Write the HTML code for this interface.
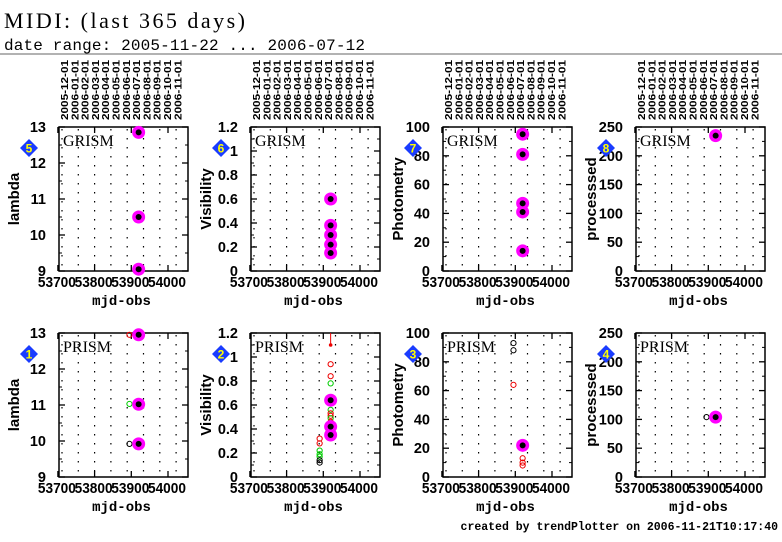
<!DOCTYPE html>
<html><head><meta charset="utf-8">
<style>
body{margin:0;background:#fff;}
svg{display:block;font-family:"Liberation Sans",sans-serif;}
.tk{font-size:14.5px;font-weight:bold;fill:#000;}
.xtk{font-size:15px;font-weight:bold;fill:#000;}
.lab{font-size:14px;font-weight:bold;font-family:"Liberation Mono",monospace;fill:#000;}
.ylab{font-size:15px;font-weight:bold;fill:#000;}
.dt{font-size:10px;font-weight:bold;fill:#000;}
</style></head>
<body>
<svg id="chart" width="782" height="542" viewBox="0 0 782 542" xmlns="http://www.w3.org/2000/svg">
<text x="4" y="28" font-family="Liberation Serif,serif" font-size="22" textLength="241">MIDI: (last 365 days)</text>
<text x="4" y="50" font-family="Liberation Mono,monospace" font-size="16" textLength="361">date range: 2005-11-22 ... 2006-07-12</text>
<line x1="0" y1="54" x2="782" y2="54" stroke="#666" stroke-width="1"/>
<text x="778" y="530" text-anchor="end" font-family="Liberation Mono,monospace" font-weight="bold" font-size="11.5">created by trendPlotter on 2006-11-21T10:17:40</text>
<g id="plots"></g>
</svg>
<script>
const xTicks=[53700,53800,53900,54000];
const monthLabels=["2005-12-01","2006-01-01","2006-02-01","2006-03-01","2006-04-01","2006-05-01","2006-06-01","2006-07-01","2006-08-01","2006-09-01","2006-10-01","2006-11-01"];
const panelIds=[5,6,7,8,1,2,3,4];
const panelModes=["GRISM","GRISM","GRISM","GRISM","PRISM","PRISM","PRISM","PRISM"];
const panelYLabels=["lambda","Visibility","Photometry","processsed","lambda","Visibility","Photometry","processsed"];
const yMins=[9,0,0,0,9,0,0,0];
const yMaxs=[13,1.2,100,250,13,1.2,100,250];
const yTickVals=[[9,10,11,12,13],[0,0.2,0.4,0.6,0.8,1,1.2],[0,20,40,60,80,100],[0,50,100,150,200,250],[9,10,11,12,13],[0,0.2,0.4,0.6,0.8,1,1.2],[0,20,40,60,80,100],[0,50,100,150,200,250]];
const mainX=[[53920,53920,53920],[53920,53920,53920,53920,53920],[53920,53920,53920,53920,53920],[53920],[53920,53920,53920],[53920,53920,53920],[53920],[53920]];
const mainY=[[12.85,10.5,9.05],[0.6,0.38,0.3,0.22,0.15],[95,81,47,41,14],[235],[12.95,11.02,9.92],[0.64,0.42,0.35],[22],[104]];
const openX=[[],[],[],[],[53895,53895,53895],[53920,53920,53920,53920,53920,53920,53920,53920,53890,53890,53890,53890,53890,53890,53890],[53895,53895,53895,53920,53920,53920],[53895]];
const openY=[[],[],[],[],[12.95,11.03,9.92],[0.94,0.84,0.78,0.56,0.53,0.51,0.49,0.46,0.32,0.28,0.22,0.19,0.17,0.14,0.12],[93,88,64,13,10,8],[104]];
const openC=[[],[],[],[],["r","g","k"],["r","r","g","g","r","r","g","r","r","r","g","g","g","k","k"],["k","k","r","r","r","r"],["k"]];
const colors={r:"#e00",g:"#0c0",k:"#000"};
const lefts=[59,251,443,636];
const tops=[127,333];
const W=129,H=144;
const ns="http://www.w3.org/2000/svg";
const root=document.getElementById('plots');
function mk(tag,attrs,parent,text){const e=document.createElementNS(ns,tag);for(const k in attrs)e.setAttribute(k,attrs[k]);if(text!==undefined)e.textContent=text;(parent||root).appendChild(e);return e;}
function fmt(v){return (Math.round(v*10)/10).toString();}
for(let p=0;p<8;p++){
  const L=lefts[p%4],T=tops[Math.floor(p/4)];
  const xs=m=>L+(m-53703)*0.367;
  const ys=v=>T+H-(v-yMins[p])/(yMaxs[p]-yMins[p])*H;
  const g=mk('g',{});
  
  
  for(let i=0;i<8;i++){const gx=L+3+i*16.3;const l=mk('line',{x1:gx,y1:T+2,x2:gx,y2:T+H,stroke:'#000','stroke-width':1.2,'stroke-dasharray':'1.5,7.5'},g);}
  const fr=mk('rect',{x:L,y:T,width:W,height:H,fill:'none',stroke:'#000','stroke-width':1.5},g);
  
  const yt=yTickVals[p];
  yt.forEach((v,i)=>{const y=ys(v);
    mk('line',{x1:L,y1:y,x2:L+6,y2:y,stroke:'#000','stroke-width':1.3},g);
    mk('line',{x1:L+W,y1:y,x2:L+W-6,y2:y,stroke:'#000','stroke-width':1.3},g);
    const t=mk('text',{x:L-13,y:y+5,'text-anchor':'end',class:'tk'},g,fmt(v));
    
    if(i<yt.length-1){const step=(yt[i+1]-v)/2;const ym=ys(v+step);
      mk('line',{x1:L,y1:ym,x2:L+3,y2:ym,stroke:'#000'},g);mk('line',{x1:L+W,y1:ym,x2:L+W-3,y2:ym,stroke:'#000'},g);}
  });
  xTicks.forEach(v=>{const x=xs(v);
    mk('line',{x1:x,y1:T+H,x2:x,y2:T+H-6,stroke:'#000','stroke-width':1.3},g);
    mk('line',{x1:x,y1:T,x2:x,y2:T+6,stroke:'#000','stroke-width':1.3},g);
    const t=mk('text',{x:x-1,y:T+H+16,'text-anchor':'middle',class:'xtk',textLength:'38',lengthAdjust:'spacingAndGlyphs'},g,String(v));
    
  });
  const xl=mk('text',{x:L+W/2-2,y:T+H+34,'text-anchor':'middle',class:'lab'},g,'mjd-obs');
  
  const yl=mk('text',{x:0,y:0,'text-anchor':'middle',class:'ylab',transform:`translate(${L-40},${T+H/2}) rotate(-90)`},g,panelYLabels[p]);
  
  const md=mk('text',{x:L+4,y:T+19,'font-family':'Liberation Serif,serif','font-size':'16'},g,panelModes[p]);
  
  const dx=L-30,dy=T+21;
  const dm=mk('polygon',{points:`${dx},${dy-9} ${dx+9},${dy} ${dx},${dy+9} ${dx-9},${dy}`,fill:'#1a3cff'},g);
  
  mk('text',{x:dx,y:dy+4.5,'text-anchor':'middle','font-size':'12','font-weight':'bold',fill:'#ff0'},g,String(panelIds[p]));
  if(p<4){monthLabels.forEach((m,i)=>{const x=L+5+i*10.3;
    const t=mk('text',{x:0,y:0,class:'dt',textLength:'60',lengthAdjust:'spacingAndGlyphs',transform:`translate(${x+4},120) rotate(-90)`},g,m);
    });}
  openX[p].forEach((m,i)=>{const c=mk('circle',{cx:xs(m),cy:ys(openY[p][i]),r:2.6,fill:'none',stroke:colors[openC[p][i]],'stroke-width':1},g);
    });
  mainX[p].forEach((m,i)=>{const c=mk('circle',{cx:xs(m),cy:ys(mainY[p][i]),r:6.5,fill:'#f0f'},g);
    });
  mainX[p].forEach((m,i)=>{const c=mk('circle',{cx:xs(m),cy:ys(mainY[p][i]),r:3,fill:'#000'},g);
    });
  if(p===5){const x=xs(53920);
    const e=mk('line',{x1:x,y1:ys(1.2),x2:x,y2:ys(1.1),stroke:'#e00','stroke-width':1},g);
    
    mk('circle',{cx:x,cy:ys(1.1),r:1.8,fill:'#e00'},g);}
}
</script>
</body></html>
